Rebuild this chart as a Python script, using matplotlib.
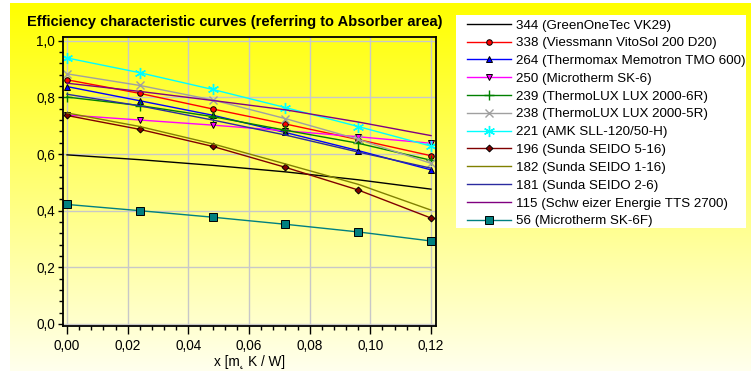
import numpy as np
import matplotlib
matplotlib.use("Agg")
import matplotlib.pyplot as plt
from matplotlib.ticker import MultipleLocator, FuncFormatter
from matplotlib.patches import Rectangle

plt.rcParams['font.family'] = ['Liberation Sans', 'DejaVu Sans']

x_vals = [0.0, 0.024, 0.048, 0.072, 0.096, 0.12]

labels = [
    "344 (GreenOneTec VK29)",
    "338 (Viessmann VitoSol 200 D20)",
    "264 (Thermomax Memotron TMO 600)",
    "250 (Microtherm SK-6)",
    "239 (ThermoLUX LUX 2000-6R)",
    "238 (ThermoLUX LUX 2000-5R)",
    "221 (AMK SLL-120/50-H)",
    "196 (Sunda SEIDO 5-16)",
    "182 (Sunda SEIDO 1-16)",
    "181 (Sunda SEIDO 2-6)",
    "115 (Schw eizer Energie TTS 2700)",
    "56 (Microtherm SK-6F)",
]

s344 = [0.597, 0.580, 0.560, 0.537, 0.509, 0.476]
s338 = [0.862, 0.814, 0.759, 0.706, 0.651, 0.594]
s264 = [0.838, 0.788, 0.737, 0.676, 0.612, 0.544]
s250 = [0.738, 0.720, 0.702, 0.682, 0.661, 0.638]
s239 = [0.801, 0.771, 0.732, 0.684, 0.638, 0.578]
s238 = [0.883, 0.842, 0.791, 0.725, 0.652, 0.567]
s221 = [0.939, 0.887, 0.828, 0.764, 0.697, 0.628]
s196 = [0.736, 0.687, 0.627, 0.553, 0.473, 0.374]
s182 = [0.745, 0.697, 0.636, 0.565, 0.493, 0.402]
s181 = [0.811, 0.770, 0.720, 0.667, 0.607, 0.550]
s115 = [0.850, 0.821, 0.789, 0.756, 0.713, 0.665]
s56 = [0.422, 0.400, 0.377, 0.352, 0.325, 0.293]

series = [s344, s338, s264, s250, s239, s238, s221, s196, s182, s181, s115, s56]

colors = ['#000000', '#FF0000', '#0000FF', '#FF00FF', '#008000', '#A0A0A0',
          '#00FFFF', '#800000', '#808000', '#2B2BA0', '#800080', '#008080']
markers = [None, 'o', '^', 'v', '+', 'x', (6, 2, 0), 'D', None, None, None, 's']
msizes = [0, 4, 4.5, 4.5, 7, 6, 8, 3.5, 0, 0, 0, 5.5]

W, H = 751, 371
fig = plt.figure(figsize=(W / 100, H / 100), dpi=100)

# background gradient
bg = fig.add_axes([10 / W, 0, 1 - 10 / W, 1 - 3 / H], zorder=-10)
grad = np.linspace(0, 1, 256).reshape(-1, 1)
top = np.array([1.0, 1.0, 0.0])
bot = np.array([1.0, 1.0, 0.93])
img = top[None, None, :] * (1 - grad[:, :, None]) + bot[None, None, :] * grad[:, :, None]
bg.imshow(img, aspect='auto', extent=[0, 1, 0, 1])
bg.axis('off')

ax = fig.add_axes([62.7 / W, (H - 326) / H, (436 - 62.7) / W, (326 - 36.5) / H])
ax.patch.set_alpha(0)

for i, (lab, ys) in enumerate(zip(labels, series)):
    m = markers[i]
    kw = dict(color=colors[i], lw=1.0, label=lab, clip_on=False)
    if m is not None:
        if m in ('+', 'x', (6, 2, 0)):
            kw.update(marker=m, ms=msizes[i], mew=1.0, mec=colors[i])
        else:
            kw.update(marker=m, ms=msizes[i], mfc=colors[i], mec='black', mew=0.7)
    ax.plot(x_vals, ys, **kw)

ax.set_xlim(-0.00142, 0.12165)
ax.set_ylim(-0.00706, 1.0148)
ax.xaxis.set_major_locator(MultipleLocator(0.02))
ax.xaxis.set_minor_locator(MultipleLocator(0.004))
ax.yaxis.set_major_locator(MultipleLocator(0.2))
ax.yaxis.set_minor_locator(MultipleLocator(0.04))
ax.xaxis.set_major_formatter(FuncFormatter(lambda v, p: f"{v:.2f}".replace('.', ',')))
ax.yaxis.set_major_formatter(FuncFormatter(lambda v, p: f"{v:.1f}".replace('.', ',')))
ax.grid(True, which='major', color='#C8C8C8', lw=1.0, zorder=0)
ax.set_axisbelow(True)
for s in ax.spines.values():
    s.set_linewidth(1.3)
    s.set_color('black')
ax.tick_params(axis='x', which='major', direction='out', length=6, width=1, pad=3, labelsize=9.8)
ax.tick_params(axis='x', which='minor', direction='out', length=3, width=1)
ax.tick_params(axis='y', which='major', direction='out', length=3.5, width=1, pad=2, labelsize=9.8)
ax.tick_params(axis='y', which='minor', direction='out', length=3, width=1)
ax.set_xlabel("x [m\u02db K / W]", fontsize=9.8, labelpad=2)

fig.text(27 / W, 1 - 22 / H, "Efficiency characteristic curves (referring to Absorber area)",
         fontsize=10.5, fontweight='bold', ha='left', va='center')

# legend box
fig.patches.append(Rectangle((456 / W, 1 - 228 / H), (746 - 456) / W, (228 - 15) / H,
                             transform=fig.transFigure, facecolor='white', edgecolor='none', zorder=1))
leg = fig.legend(loc='upper left', bbox_to_anchor=(464 / W, 1 - 16.5 / H), frameon=False,
                 fontsize=9.6, handlelength=3.3, handletextpad=0.4, labelspacing=0.41,
                 borderpad=0.2, borderaxespad=0, numpoints=1)
leg.set_zorder(2)

fig.savefig("out.png", dpi=100)
